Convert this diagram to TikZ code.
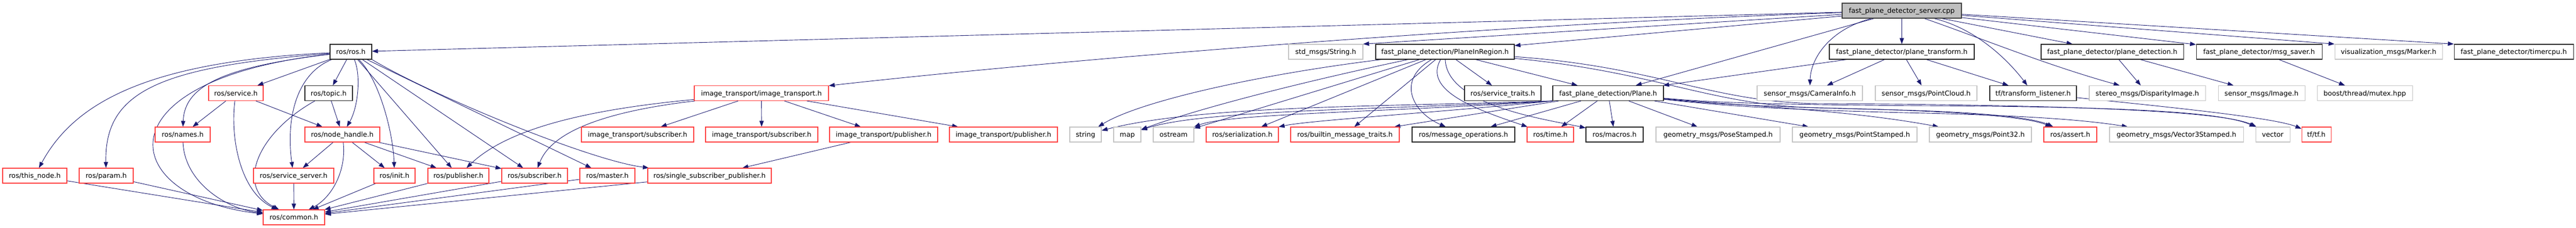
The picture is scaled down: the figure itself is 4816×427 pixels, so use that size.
\documentclass[tikz,border=0pt]{standalone}
\usepackage{fontspec}
\setmainfont{DejaVu Sans}
\usetikzlibrary{arrows.meta}
\definecolor{edgeblue}{HTML}{191970}
\definecolor{redb}{HTML}{FF4040}
\definecolor{grayb}{HTML}{C4C4C4}
\definecolor{rootfill}{HTML}{BFBFBF}
\pgfdeclarelayer{bg}
\pgfsetlayers{bg,main}
\begin{document}
\begin{tikzpicture}[x=1pt,y=-1pt,
  box/.style={line width=1.1pt, fill=white, minimum height=28pt, inner xsep=1pt, inner ysep=0pt,
    text height=9.6pt, text depth=0.2pt, font=\fontsize{12.7}{14}\selectfont, anchor=center},
  blk/.style={box, draw=black!85},
  redn/.style={box, draw=redb},
  gryn/.style={box, draw=grayb},
  rootn/.style={box, draw=black!75, fill=rootfill},
  conn/.style={draw=edgeblue, line width=0.9pt, -{Triangle[length=11pt,width=8pt]}}]
\useasboundingbox (0,0) rectangle (4816,427);
% row 0
\node[rootn, minimum width=223pt] (root) at (3555.5,20) {fast\_plane\_detector\_server.cpp};
% row 1
\node[blk, minimum width=78pt] (ros) at (656,97) {ros/ros.h};
\node[gryn, minimum width=139pt] (stdstr) at (2478.5,97) {std\_msgs/String.h};
\node[blk, minimum width=259pt] (pir) at (2701.5,97) {fast\_plane\_detection/PlaneInRegion.h};
\node[blk, minimum width=271pt] (ptrans) at (3555.5,97) {fast\_plane\_detector/plane\_transform.h};
\node[blk, minimum width=266pt] (pdet) at (3949,97) {fast\_plane\_detector/plane\_detection.h};
\node[blk, minimum width=235pt] (msgsaver) at (4223.5,97) {fast\_plane\_detector/msg\_saver.h};
\node[gryn, minimum width=201pt] (marker) at (4465.5,97) {visualization\_msgs/Marker.h};
\node[blk, minimum width=223pt] (timer) at (4699.5,97) {fast\_plane\_detector/timercpu.h};
% row 2
\node[redn, minimum width=102pt] (service) at (441,174.5) {ros/service.h};
\node[blk, minimum width=89pt] (topic) at (614.5,174.5) {ros/topic.h};
\node[redn, minimum width=251pt] (itrans) at (1423.5,174.5) {image\_transport/image\_transport.h};
\node[blk, minimum width=143pt] (strait) at (2809.5,174.5) {ros/service\_traits.h};
\node[blk, minimum width=207pt] (plane) at (3006.5,174.5) {fast\_plane\_detection/Plane.h};
\node[gryn, minimum width=197pt] (caminfo) at (3383.5,174.5) {sensor\_msgs/CameraInfo.h};
\node[gryn, minimum width=190pt] (pcloud) at (3601,174.5) {sensor\_msgs/PointCloud.h};
\node[blk, minimum width=162pt] (tflist) at (3801,174.5) {tf/transform\_listener.h};
\node[gryn, minimum width=217pt] (disp) at (4014.5,174.5) {stereo\_msgs/DisparityImage.h};
\node[gryn, minimum width=162pt] (image) at (4228,174.5) {sensor\_msgs/Image.h};
\node[gryn, minimum width=178pt] (mutex) at (4421,174.5) {boost/thread/mutex.hpp};
% row 3
\node[redn, minimum width=103pt] (names) at (341.5,252) {ros/names.h};
\node[redn, minimum width=140pt] (nh) at (640,252) {ros/node\_handle.h};
\node[redn, minimum width=210pt] (itsub1) at (1192,252) {image\_transport/subscriber.h};
\node[redn, minimum width=210pt] (itsub2) at (1424,252) {image\_transport/subscriber.h};
\node[redn, minimum width=202pt] (itpub1) at (1652,252) {image\_transport/publisher.h};
\node[redn, minimum width=202pt] (itpub2) at (1876,252) {image\_transport/publisher.h};
\node[gryn, minimum width=59pt] (string) at (2029.5,252) {string};
\node[gryn, minimum width=51pt] (map) at (2107.5,252) {map};
\node[gryn, minimum width=76pt] (ostream) at (2194,252) {ostream};
\node[redn, minimum width=135pt] (serial) at (2322.5,252) {ros/serialization.h};
\node[redn, minimum width=203pt] (builtin) at (2514.5,252) {ros/builtin\_message\_traits.h};
\node[blk, minimum width=192pt] (msgops) at (2736,252) {ros/message\_operations.h};
\node[redn, minimum width=87pt] (time) at (2898.5,252) {ros/time.h};
\node[blk, minimum width=107pt] (macros) at (3018.5,252) {ros/macros.h};
\node[gryn, minimum width=232pt] (pose) at (3212,252) {geometry\_msgs/PoseStamped.h};
\node[gryn, minimum width=233pt] (pointst) at (3467.5,252) {geometry\_msgs/PointStamped.h};
\node[gryn, minimum width=191pt] (point32) at (3702.5,252) {geometry\_msgs/Point32.h};
\node[redn, minimum width=99pt] (assert) at (3870.5,252) {ros/assert.h};
\node[gryn, minimum width=250pt] (vec3) at (4069,252) {geometry\_msgs/Vector3Stamped.h};
\node[gryn, minimum width=64pt] (vector) at (4249,252) {vector};
\node[redn, minimum width=55pt] (tftf) at (4330.5,252) {tf/tf.h};
% row 4
\node[redn, minimum width=120pt] (thisnode) at (65,329) {ros/this\_node.h};
\node[redn, minimum width=101pt] (param) at (198.5,329) {ros/param.h};
\node[redn, minimum width=150pt] (sserver) at (549,329) {ros/service\_server.h};
\node[redn, minimum width=77pt] (init) at (737.5,329) {ros/init.h};
\node[redn, minimum width=114pt] (pub) at (857,329) {ros/publisher.h};
\node[redn, minimum width=123pt] (sub) at (999.5,329) {ros/subscriber.h};
\node[redn, minimum width=103pt] (master) at (1135.5,329) {ros/master.h};
\node[redn, minimum width=231pt] (ssp) at (1326.5,329) {ros/single\_subscriber\_publisher.h};
% row 5
\node[redn, minimum width=115pt] (common) at (549.5,407) {ros/common.h};

\begin{pgfonlayer}{bg}
% root edges
\draw[conn] (root) -- (ros);
\draw[conn] (root) -- (stdstr.north east);
\draw[conn] (root) -- (pir);
\draw[conn] (root) -- (ptrans);
\draw[conn] (root) .. controls (3420,55) and (3385,110) .. (caminfo);
\draw[conn] (root) -- (plane);
\draw[conn] (root) .. controls (3700,55) and (3760,120) .. (tflist);
\draw[conn] (root) .. controls (3700,70) and (3820,120) .. (disp);
\draw[conn] (root) -- (pdet);
\draw[conn] (root) -- (msgsaver);
\draw[conn] (root) -- (marker.north west);
\draw[conn] (root) -- (timer.north west);
\draw[conn] (root) .. controls (2800,45) and (2000,110) .. (itrans);
% ros.h edges
\draw[conn] (ros) .. controls (280,115) and (140,190) .. (thisnode);
\draw[conn] (ros) .. controls (300,125) and (195,170) .. (param);
\draw[conn] (ros) .. controls (420,125) and (345,160) .. (names);
\draw[conn] (ros) .. controls (180,150) and (220,370) .. (common);
\draw[conn] (ros) -- (service);
\draw[conn] (ros) -- (topic);
\draw[conn] (ros) .. controls (550,140) and (535,230) .. (sserver);
\draw[conn] (ros) .. controls (675,140) and (670,200) .. (nh);
\draw[conn] (ros) .. controls (710,150) and (735,250) .. (init);
\draw[conn] (ros) -- (pub);
\draw[conn] (ros) -- (sub);
\draw[conn] (ros) -- (master);
\draw[conn] (ros.south east) .. controls (800,175) and (1100,300) .. (ssp);
% service, topic, node_handle
\draw[conn] (service) -- (names);
\draw[conn] (service) -- (nh);
\draw[conn] (service) .. controls (430,260) and (450,360) .. (common);
\draw[conn] (topic) -- (nh);
\draw[conn] (topic) .. controls (480,250) and (440,350) .. (common);
\draw[conn] (nh) -- (sserver);
\draw[conn] (nh) .. controls (648,320) and (620,370) .. (common);
\draw[conn] (nh) -- (init);
\draw[conn] (nh) -- (pub);
\draw[conn] (nh) -- (sub);
\draw[conn] (names) .. controls (345,340) and (420,390) .. (common);
% row 4 to common
\draw[conn] (thisnode) -- (common);
\draw[conn] (param) -- (common);
\draw[conn] (sserver) -- (common);
\draw[conn] (init) -- (common);
\draw[conn] (pub) -- (common);
\draw[conn] (sub) -- (common);
\draw[conn] (master) -- (common);
\draw[conn] (ssp) -- (common);
% image_transport
\draw[conn] (itrans) .. controls (1100,205) and (950,240) .. (pub);
\draw[conn] (itrans) .. controls (1120,210) and (1030,250) .. (sub);
\draw[conn] (itrans) -- (itsub1);
\draw[conn] (itrans) -- (itsub2);
\draw[conn] (itrans) -- (itpub1);
\draw[conn] (itrans) -- (itpub2);
\draw[conn] (itpub1) -- (ssp);
% PlaneInRegion
\draw[conn] (pir) .. controls (2350,140) and (2130,190) .. (string);
\draw[conn] (pir) .. controls (2450,150) and (2250,200) .. (map);
\draw[conn] (pir) -- (ostream);
\draw[conn] (pir) -- (serial);
\draw[conn] (pir) -- (builtin);
\draw[conn] (pir) .. controls (2610,150) and (2640,210) .. (msgops);
\draw[conn] (pir) .. controls (2660,170) and (2760,205) .. (time);
\draw[conn] (pir) .. controls (2705,200) and (2900,225) .. (macros);
\draw[conn] (pir) -- (strait);
\draw[conn] (pir) -- (plane);
\draw[conn] (pir) .. controls (3100,135) and (3200,198) .. (3400,202) .. controls (3600,206) and (3780,215) .. (assert);
\draw[conn] (pir) .. controls (3100,125) and (3200,192) .. (3400,194) .. controls (3800,196) and (4150,205) .. (vector);
% Plane
\draw[conn] (plane.south west) .. controls (2600,200) and (2250,196) .. (string);
\draw[conn] (plane.south west) .. controls (2600,205) and (2250,205) .. (map);
\draw[conn] (plane.south west) .. controls (2600,210) and (2300,212) .. (ostream);
\draw[conn] (plane.south west) .. controls (2700,210) and (2450,225) .. (serial);
\draw[conn] (plane) -- (builtin);
\draw[conn] (plane) -- (msgops);
\draw[conn] (plane) -- (time);
\draw[conn] (plane) -- (macros);
\draw[conn] (plane) -- (pose);
\draw[conn] (plane) -- (pointst);
\draw[conn] (plane) .. controls (3250,198) and (3450,205) .. (point32);
\draw[conn] (plane) .. controls (3200,195) and (3300,200) .. (3550,206) .. controls (3700,210) and (3800,220) .. (assert);
\draw[conn] (plane) .. controls (3200,196) and (3300,205) .. (3600,212) .. controls (3800,217) and (3900,225) .. (vec3);
\draw[conn] (plane) .. controls (3200,192) and (3300,196) .. (3600,198) .. controls (3950,200) and (4150,208) .. (vector);
% plane_transform, plane_detection, msg_saver, transform_listener
\draw[conn] (ptrans) -- (plane);
\draw[conn] (ptrans) -- (caminfo);
\draw[conn] (ptrans) -- (pcloud);
\draw[conn] (ptrans) -- (tflist);
\draw[conn] (pdet) -- (disp);
\draw[conn] (pdet) -- (image);
\draw[conn] (msgsaver) -- (mutex);
\draw[conn] (tflist) .. controls (4050,200) and (4250,220) .. (tftf);
\end{pgfonlayer}
\end{tikzpicture}
\end{document}
